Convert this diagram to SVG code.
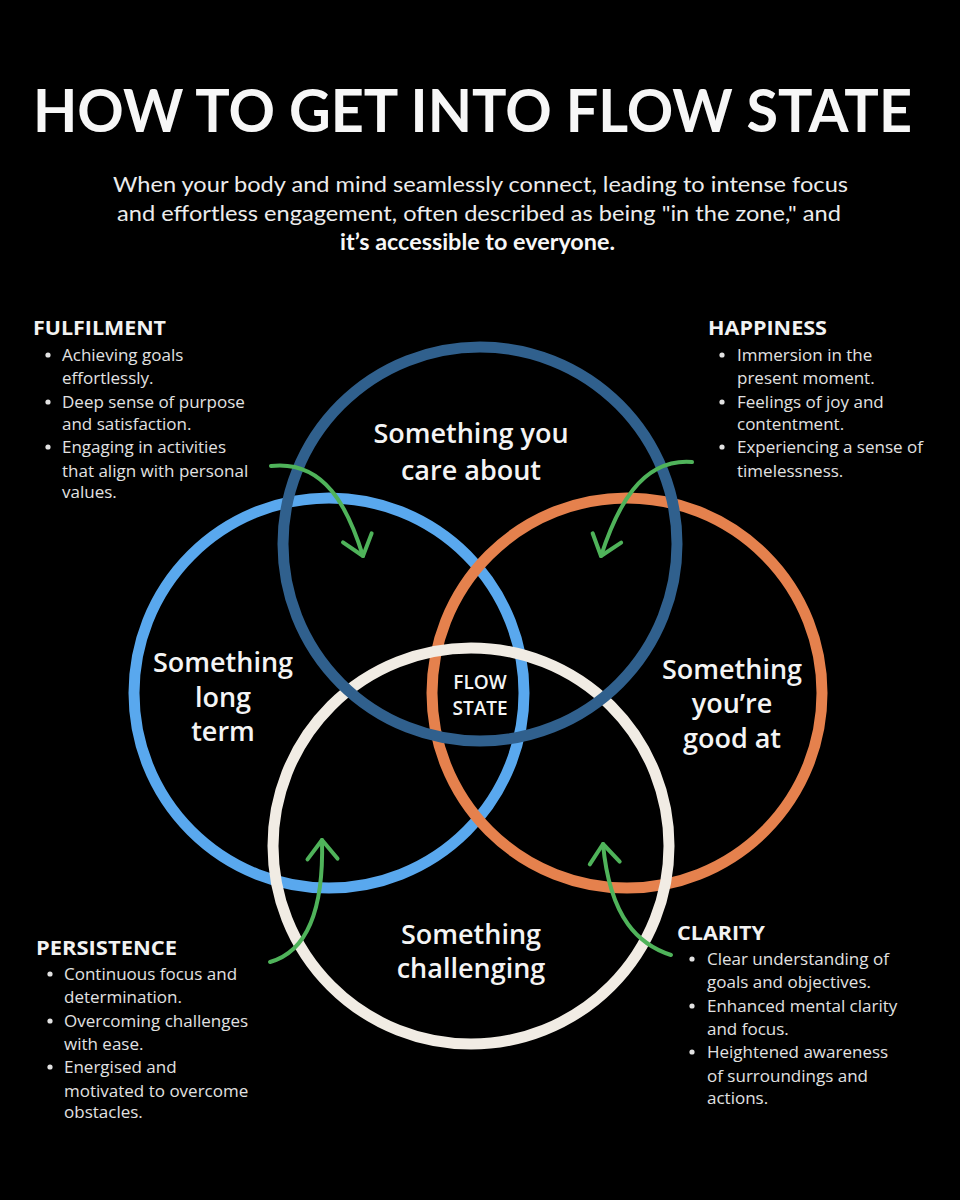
<svg xmlns="http://www.w3.org/2000/svg" width="960" height="1200" viewBox="0 0 960 1200">
  <defs>
    <style>
      .title { font-family: Lato, "Liberation Sans", sans-serif; font-weight: 700; fill: #f7f7f7; }
      .sub { font-family: Lato, "Liberation Sans", sans-serif; font-size: 22px; fill: #ececec; }
      .subb { font-weight: 700; fill: #f7f7f7; }
      .ring { fill: none; stroke-width: 11; }
      .lbl { font-family: "Open Sans", "Noto Sans", sans-serif; font-weight: 600; font-size: 27px; fill: #f4f4f4; text-anchor: middle; }
      .flow { font-family: "Open Sans", "Noto Sans", sans-serif; font-weight: 600; font-size: 19px; fill: #f4f4f4; text-anchor: middle; }
      .head { font-family: "Open Sans", "Noto Sans", sans-serif; font-weight: 700; font-size: 20px; fill: #f2f2f2; }
      .body { font-family: "Open Sans", "Noto Sans", sans-serif; font-size: 17px; fill: #e2e2e2; }
      .dot { fill: #e2e2e2; }
      .arrow { fill: none; stroke: #4fb35a; stroke-width: 4; stroke-linecap: round; marker-end: url(#chev); }
    </style>
    <marker id="chev" markerUnits="userSpaceOnUse" viewBox="-24 -20 28 40" markerWidth="28" markerHeight="40" refX="0" refY="0" orient="auto">
      <path d="M-19,-15 L0,0 L-19,15" fill="none" stroke="#4fb35a" stroke-width="4" stroke-linecap="round" stroke-linejoin="round"/>
    </marker>
  </defs>

  <rect width="960" height="1200" fill="#000"/>

  <g id="header">
    <text class="title" x="33" y="132" font-size="60" textLength="879" lengthAdjust="spacingAndGlyphs">HOW TO GET INTO FLOW STATE</text>
    <text class="sub" x="113" y="192" textLength="735" lengthAdjust="spacingAndGlyphs">When your body and mind seamlessly connect, leading to intense focus</text>
    <text class="sub" x="117" y="221" textLength="724" lengthAdjust="spacingAndGlyphs">and effortless engagement, often described as being "in the zone," and</text>
    <text class="sub subb" x="340" y="250" textLength="275" lengthAdjust="spacingAndGlyphs">it’s accessible to everyone.</text>
  </g>

  <g id="circles">
    <g id="circle-long-term">
      <circle class="ring" cx="329" cy="693" r="195" stroke="#59a8ee"/>
    </g>
    <g id="circle-good-at">
      <circle class="ring" cx="627" cy="693" r="195" stroke="#e5814d"/>
    </g>
    <g id="circle-challenging">
      <circle class="ring" cx="471" cy="846" r="198" stroke="#f1ece4"/>
    </g>
    <g id="circle-care-about">
      <circle class="ring" cx="480" cy="544" r="197" stroke="#30608d"/>
    </g>
  </g>

  <g id="labels">
    <g id="label-care-about">
      <text class="lbl" x="471" y="443">Something you</text>
      <text class="lbl" x="471" y="480">care about</text>
    </g>
    <g id="label-long-term">
      <text class="lbl" x="223" y="672">Something</text>
      <text class="lbl" x="223" y="707">long</text>
      <text class="lbl" x="223" y="741">term</text>
    </g>
    <g id="label-good-at">
      <text class="lbl" x="732" y="679">Something</text>
      <text class="lbl" x="732" y="713">you’re</text>
      <text class="lbl" x="732" y="748">good at</text>
    </g>
    <g id="label-challenging">
      <text class="lbl" x="471" y="944">Something</text>
      <text class="lbl" x="471" y="978">challenging</text>
    </g>
    <g id="label-flow-state">
      <text class="flow" x="480" y="689">FLOW</text>
      <text class="flow" x="480" y="715">STATE</text>
    </g>
  </g>

  <g id="connectors">
    <path class="arrow" d="M271,466 C325,460 348,508 363,556"/>
    <path class="arrow" d="M692,462 C640,458 616,510 601,556"/>
    <path class="arrow" d="M270,962 C305,952 324,915 322,840"/>
    <path class="arrow" d="M671,955 C640,945 610,920 603,844"/>
  </g>

  <g id="fulfilment">
    <text class="head" x="33" y="335" textLength="133" lengthAdjust="spacingAndGlyphs">FULFILMENT</text>
    <circle class="dot" cx="48" cy="355" r="2.6"/>
    <circle class="dot" cx="48" cy="402" r="2.6"/>
    <circle class="dot" cx="48" cy="447" r="2.6"/>
    <text class="body" x="62" y="361">Achieving goals</text>
    <text class="body" x="62" y="384">effortlessly.</text>
    <text class="body" x="62" y="408">Deep sense of purpose</text>
    <text class="body" x="62" y="430">and satisfaction.</text>
    <text class="body" x="62" y="453">Engaging in activities</text>
    <text class="body" x="62" y="477">that align with personal</text>
    <text class="body" x="62" y="498">values.</text>
  </g>

  <g id="happiness">
    <text class="head" x="708" y="335" textLength="119" lengthAdjust="spacingAndGlyphs">HAPPINESS</text>
    <circle class="dot" cx="722" cy="355" r="2.6"/>
    <circle class="dot" cx="722" cy="402" r="2.6"/>
    <circle class="dot" cx="722" cy="447" r="2.6"/>
    <text class="body" x="737" y="361">Immersion in the</text>
    <text class="body" x="737" y="384">present moment.</text>
    <text class="body" x="737" y="408">Feelings of joy and</text>
    <text class="body" x="737" y="430">contentment.</text>
    <text class="body" x="737" y="453">Experiencing a sense of</text>
    <text class="body" x="737" y="477">timelessness.</text>
  </g>

  <g id="persistence">
    <text class="head" x="36" y="955" textLength="141" lengthAdjust="spacingAndGlyphs">PERSISTENCE</text>
    <circle class="dot" cx="50" cy="974" r="2.6"/>
    <circle class="dot" cx="50" cy="1021" r="2.6"/>
    <circle class="dot" cx="50" cy="1067" r="2.6"/>
    <text class="body" x="64" y="980">Continuous focus and</text>
    <text class="body" x="64" y="1003">determination.</text>
    <text class="body" x="64" y="1027">Overcoming challenges</text>
    <text class="body" x="64" y="1050">with ease.</text>
    <text class="body" x="64" y="1073">Energised and</text>
    <text class="body" x="64" y="1097">motivated to overcome</text>
    <text class="body" x="64" y="1118">obstacles.</text>
  </g>

  <g id="clarity">
    <text class="head" x="677" y="940" textLength="88" lengthAdjust="spacingAndGlyphs">CLARITY</text>
    <circle class="dot" cx="692" cy="959" r="2.6"/>
    <circle class="dot" cx="692" cy="1006" r="2.6"/>
    <circle class="dot" cx="692" cy="1052" r="2.6"/>
    <text class="body" x="707" y="965">Clear understanding of</text>
    <text class="body" x="707" y="988">goals and objectives.</text>
    <text class="body" x="707" y="1012">Enhanced mental clarity</text>
    <text class="body" x="707" y="1035">and focus.</text>
    <text class="body" x="707" y="1058">Heightened awareness</text>
    <text class="body" x="707" y="1082">of surroundings and</text>
    <text class="body" x="707" y="1104">actions.</text>
  </g>
</svg>
